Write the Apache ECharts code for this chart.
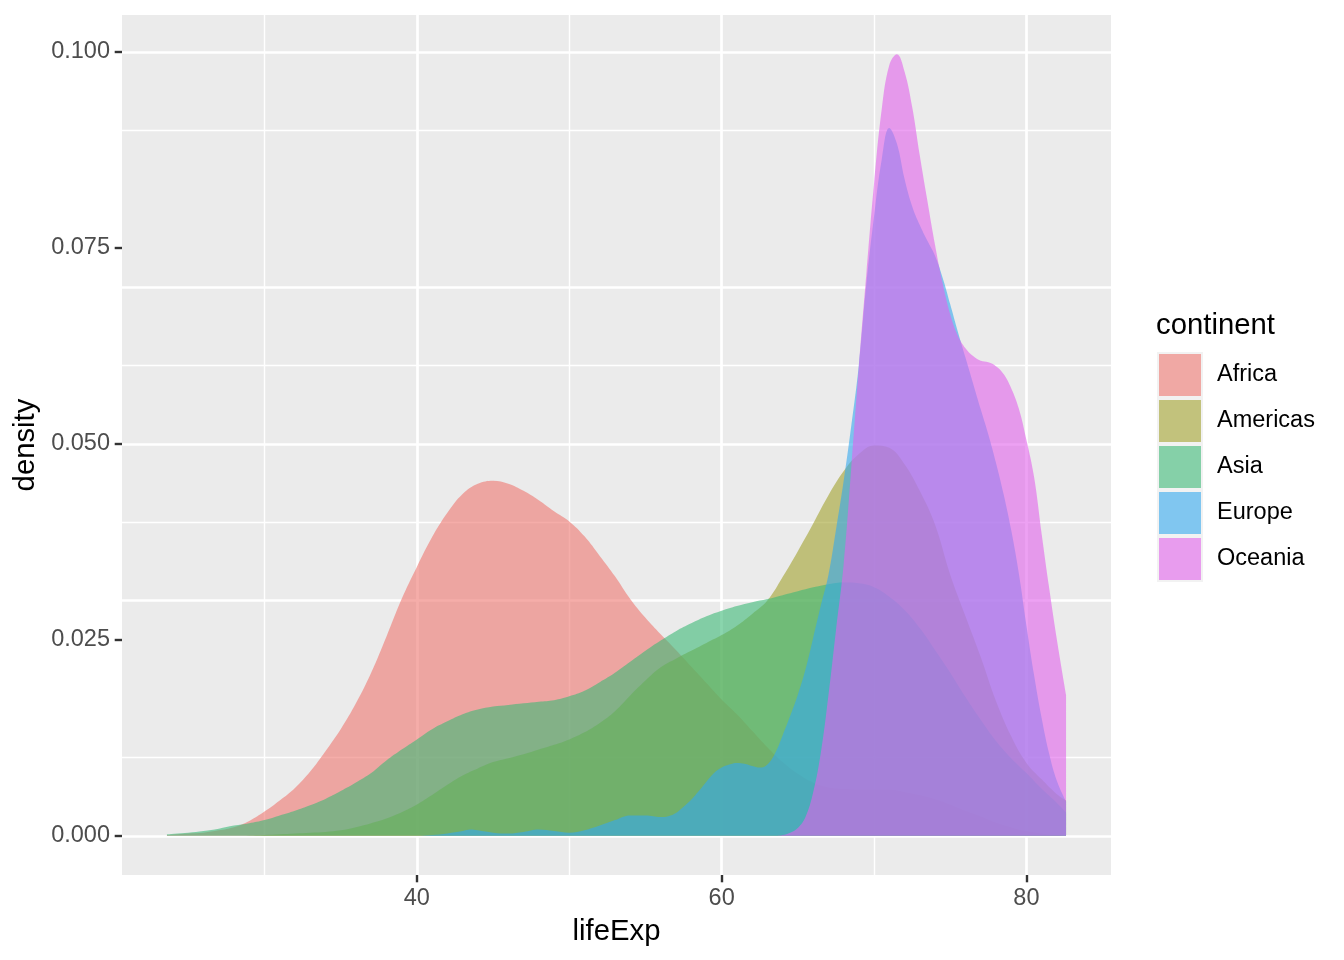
<!DOCTYPE html>
<html><head><meta charset="utf-8">
<script src="https://cdn.jsdelivr.net/npm/echarts@6/dist/echarts.min.js"></script>
<style>html,body{margin:0;padding:0;background:#fff}#c{width:1344px;height:960px}</style>
</head><body><div id="c"></div>
<script>
const continents = ['Africa', 'Americas', 'Asia', 'Europe', 'Oceania'];
const colors = ['#EF7770', '#A2A22D', '#3CB977', '#34A9EF', '#E163EB'];
const xTicks = [40, 60, 80];
const xMinor = [30, 50, 70];
const yTicks = [0, 0.025, 0.05, 0.075, 0.1];
const yMinor = [0.0125, 0.0375, 0.0625, 0.0875];

// [lifeExp, density]
const africa = [[23.6,0.0001],[25,0.0003],[26,0.0004],[27,0.0007],[28,0.0011],[29,0.0019],[30,0.0031],[31,0.0045],[32,0.0061],[33,0.0082],[34,0.0108],[35,0.0136],[36,0.0169],[37,0.0208],[38,0.0254],[39,0.0302],[40,0.0343],[41,0.0381],[42,0.0412],[43,0.0436],[44,0.0449],[45,0.0453],[46,0.0449],[47,0.0440],[48,0.0428],[49,0.0414],[50,0.0401],[51,0.0382],[52,0.0357],[53,0.0331],[54,0.0302],[55,0.0278],[56,0.0257],[57,0.0237],[58,0.0216],[59,0.0195],[60,0.0174],[61,0.0155],[62,0.0134],[63,0.0113],[64,0.0094],[65,0.0079],[66,0.0068],[67,0.0062],[68,0.0060],[69,0.0059],[70,0.0059],[71,0.0059],[72,0.0056],[73,0.0052],[74,0.0047],[75,0.0040],[76,0.0032],[77,0.0025],[78,0.0017],[79,0.0011],[80,0.0006],[81,0.0003],[82,0.0001],[82.6,0.0001]];
const americas = [[23.6,0],[28,0],[30,0.0001],[31,0.0002],[32,0.0003],[33,0.0004],[34,0.0005],[35,0.0007],[36,0.0011],[37,0.0016],[38,0.0022],[39,0.0030],[40,0.0040],[41,0.0052],[42,0.0065],[43,0.0077],[44,0.0086],[45,0.0094],[46,0.0099],[47,0.0104],[48,0.0110],[49,0.0116],[50,0.0123],[51,0.0132],[52,0.0144],[53,0.0159],[54,0.0179],[55,0.0198],[56,0.0215],[57,0.0226],[58,0.0236],[59,0.0246],[60,0.0256],[61,0.0268],[62,0.0283],[63,0.0300],[64,0.0330],[65,0.0363],[66,0.0398],[67,0.0434],[68,0.0465],[69,0.0487],[70,0.0498],[71,0.0495],[72,0.0474],[73,0.0440],[74,0.0397],[75,0.0333],[76,0.0280],[77,0.0228],[78,0.0172],[79,0.0127],[80,0.0093],[81,0.0072],[82,0.0053],[82.6,0.0045]];
const asia = [[23.6,0.0002],[25,0.0004],[26,0.0006],[27,0.0009],[28,0.0013],[29,0.0016],[30,0.0020],[31,0.0026],[32,0.0032],[33,0.0039],[34,0.0047],[35,0.0057],[36,0.0068],[37,0.0080],[38,0.0096],[39,0.0110],[40,0.0123],[41,0.0136],[42,0.0146],[43,0.0155],[44,0.0161],[45,0.0165],[46,0.0167],[47,0.0169],[48,0.0171],[49,0.0173],[50,0.0178],[51,0.0185],[52,0.0196],[53,0.0208],[54,0.0222],[55,0.0236],[56,0.0249],[57,0.0261],[58,0.0271],[59,0.0280],[60,0.0287],[61,0.0293],[62,0.0298],[63,0.0302],[64,0.0307],[65,0.0312],[66,0.0317],[67,0.0321],[68,0.0323],[69,0.0322],[70,0.0317],[71,0.0305],[72,0.0288],[73,0.0265],[74,0.0237],[75,0.0208],[76,0.0177],[77,0.0148],[78,0.0121],[79,0.0099],[80,0.0080],[81,0.0060],[82,0.0042],[82.6,0.0030]];
const europe = [[23.6,0],[40,0],[41,0.0001],[42,0.0003],[43,0.0006],[43.5,0.0008],[44,0.0007],[45,0.0004],[46,0.0003],[47,0.0005],[48,0.0008],[49,0.0006],[50,0.0004],[51,0.0007],[52,0.0013],[53,0.0020],[54,0.0026],[55,0.0026],[56,0.0024],[56.5,0.0025],[57,0.0029],[57.5,0.0037],[58,0.0046],[58.5,0.0057],[59,0.0069],[59.5,0.0080],[60,0.0087],[60.5,0.0091],[61,0.0093],[61.5,0.0092],[62,0.0089],[62.5,0.0087],[63,0.0091],[63.5,0.0105],[64,0.0128],[64.5,0.0153],[65,0.0180],[65.5,0.0212],[66,0.0252],[66.5,0.0293],[67,0.0332],[67.5,0.0390],[68,0.0452],[68.5,0.0522],[69,0.0600],[69.5,0.0705],[70,0.0790],[70.5,0.0862],[71,0.0903],[71.5,0.0883],[72,0.0838],[72.5,0.0803],[73,0.0779],[73.5,0.0759],[74,0.0740],[74.5,0.0712],[75,0.0678],[75.5,0.0643],[76,0.0610],[76.5,0.0577],[77,0.0544],[77.5,0.0512],[78,0.0476],[78.5,0.0436],[79,0.0390],[79.5,0.0335],[80,0.0268],[80.5,0.0205],[81,0.0150],[81.5,0.0104],[82,0.0070],[82.6,0.0044]];
const oceania = [[23.6,0],[63.5,0],[64,0.0001],[64.5,0.0004],[65,0.0010],[65.5,0.0024],[66,0.0055],[66.5,0.0105],[67,0.0178],[67.5,0.0262],[68,0.0345],[68.5,0.0468],[69,0.0598],[69.5,0.0718],[70,0.0832],[70.5,0.0926],[71,0.0983],[71.5,0.0997],[72,0.0975],[72.5,0.0930],[73,0.0868],[73.5,0.0810],[74,0.0754],[74.5,0.0705],[75,0.0665],[75.5,0.0638],[76,0.0622],[76.5,0.0612],[77,0.0606],[77.5,0.0604],[78,0.0599],[78.5,0.0589],[79,0.0571],[79.5,0.0545],[80,0.0505],[80.5,0.0458],[81,0.0385],[81.5,0.0315],[82,0.0250],[82.6,0.0180]];

const densities = [africa, americas, asia, europe, oceania];
const ALPHA = 0.6;
const FONT = 'Liberation Sans, Arial, sans-serif';

function blend(hex, a, bgHex) {
  const p = h => [1, 3, 5].map(i => parseInt(h.slice(i, i + 2), 16));
  const c = p(hex), b = p(bgHex);
  return 'rgb(' + c.map((v, i) => Math.round(v * a + b[i] * (1 - a))).join(',') + ')';
}

const gridLines = [
  ...xMinor.map(v => ({ xAxis: v, lineStyle: { color: '#fff', width: 1.4, type: 'solid' } })),
  ...xTicks.map(v => ({ xAxis: v, lineStyle: { color: '#fff', width: 2.7, type: 'solid' } })),
  ...yMinor.map(v => ({ yAxis: v, lineStyle: { color: '#fff', width: 1.4, type: 'solid' } })),
  ...yTicks.map(v => ({ yAxis: v, lineStyle: { color: '#fff', width: 2.7, type: 'solid' } }))
];

const series = [{
  name: 'grid', type: 'line', data: [[50, 0]], symbol: 'none', showSymbol: false,
  lineStyle: { opacity: 0, width: 0 }, z: 1, silent: true,
  markLine: { z: 1, silent: true, symbol: ['none', 'none'], label: { show: false }, animation: false,
    emphasis: { disabled: true }, data: gridLines }
}].concat(continents.map((name, i) => ({
  name, type: 'line', data: densities[i], smooth: 0.4, symbol: 'none', showSymbol: false,
  lineStyle: { width: 0, opacity: 0 },
  itemStyle: { color: colors[i] },
  areaStyle: { color: colors[i], opacity: ALPHA },
  z: 3, silent: true
})));

const chart = echarts.init(document.getElementById('c'));
chart.setOption({
  animation: false,
  backgroundColor: '#fff',
  grid: { left: 122, right: 233, top: 15, bottom: 85, show: true, backgroundColor: '#EBEBEB', borderWidth: 0 },
  title: { text: 'continent', left: 1156, top: 311, padding: 0,
    textStyle: { fontSize: 29.3, fontWeight: 'normal', color: '#000', fontFamily: FONT } },
  legend: {
    orient: 'vertical', left: 1157, top: 352, padding: 0, itemWidth: 44, itemHeight: 44, itemGap: 0,
    selectedMode: false,
    data: continents.map((n, i) => ({ name: n, icon: 'rect',
      itemStyle: { color: blend(colors[i], ALPHA, '#F2F2F2'), borderColor: '#F2F2F2', borderWidth: 2, opacity: 1 } })),
    textStyle: { fontSize: 23.5, color: '#000', fontFamily: FONT, padding: [8, 0, 0, 10] }
  },
  xAxis: {
    type: 'value', min: 20.65, max: 85.55,
    name: 'lifeExp', nameLocation: 'middle', nameGap: 57,
    nameTextStyle: { fontSize: 29.3, color: '#000', fontFamily: FONT, verticalAlign: 'middle' },
    axisLine: { show: false, onZero: false },
    axisTick: { show: true, customValues: xTicks, length: 7.3, lineStyle: { color: '#333333', width: 2.4 } },
    axisLabel: { customValues: xTicks, color: '#4D4D4D', fontSize: 23.5, fontFamily: FONT, margin: 12 },
    splitLine: { show: false }
  },
  yAxis: {
    type: 'value', min: -0.005, max: 0.1047,
    name: 'density', nameLocation: 'middle', nameGap: 88, nameRotate: 90,
    nameTextStyle: { fontSize: 29.3, color: '#000', fontFamily: FONT, verticalAlign: 'middle' },
    axisLine: { show: false, onZero: false },
    axisTick: { show: true, customValues: yTicks, length: 7.3, lineStyle: { color: '#333333', width: 2.4 } },
    axisLabel: { customValues: yTicks, color: '#4D4D4D', fontSize: 23.5, fontFamily: FONT, margin: 12,
      formatter: v => v.toFixed(3) },
    splitLine: { show: false }
  },
  series
});
</script></body></html>
